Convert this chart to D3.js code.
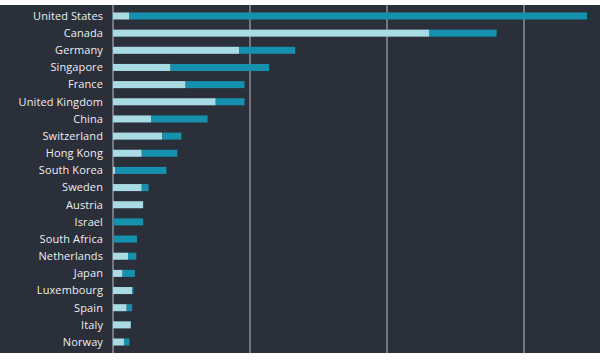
<!DOCTYPE html>
<html>
<head>
<meta charset="utf-8">
<script src="https://cdn.jsdelivr.net/npm/d3@7"></script>
<style>
  html, body { margin: 0; padding: 0; background: #ffffff; }
  svg { display: block; }
</style>
</head>
<body>
<svg id="chart" width="600" height="360"></svg>
<script>
const countries = ["United States","Canada","Germany","Singapore","France","United Kingdom","China","Switzerland","Hong Kong","South Korea","Sweden","Austria","Israel","South Africa","Netherlands","Japan","Luxembourg","Spain","Italy","Norway"];
const seriesA = [12, 231, 92, 42, 53, 75, 28, 36, 21, 1.5, 21, 22, 0, 0, 11, 7, 14, 10, 13, 8];
const seriesB = [334, 49, 41, 72, 43, 21, 41, 14, 26, 37.5, 5, 0, 22, 17.5, 6, 9, 1, 4, 0, 4];
const gridTicks = [0, 100, 200, 300];

const svg = d3.select("#chart");
const W = 600, H = 360;

svg.append("rect").attr("x", 0).attr("y", 5).attr("width", W).attr("height", 348).attr("fill", "#2b2f3a");

const x = d3.scaleLinear().domain([0, 300]).range([113, 524]);
const y = d3.scaleBand().domain(countries).range([7.4, 350.6]).paddingInner(0.59).paddingOuter(0.295);

// gridlines
svg.append("g").selectAll("line").data(gridTicks).join("line")
  .attr("x1", d => x(d)).attr("x2", d => x(d))
  .attr("y1", 5).attr("y2", 353)
  .attr("stroke", "#a3a8b0").attr("stroke-width", 1.2);

const rows = countries.map((c, i) => ({c, a: seriesA[i], b: seriesB[i]}));
const stack = d3.stack().keys(["a", "b"])(rows);
const colors = {a: "#a9dbe4", b: "#1590ad"};

svg.append("g").selectAll("g").data(stack).join("g")
  .attr("fill", d => colors[d.key])
  .selectAll("rect").data(d => d).join("rect")
  .attr("x", d => x(d[0]))
  .attr("y", d => y(d.data.c))
  .attr("width", d => Math.max(0, x(d[1]) - x(d[0])))
  .attr("height", y.bandwidth());

svg.append("g").selectAll("text").data(countries).join("text")
  .attr("x", 103)
  .attr("y", d => y(d) + y.bandwidth() / 2)
  .attr("dy", "0.35em")
  .attr("text-anchor", "end")
  .attr("fill", "#eceef1")
  .style("font-family", "'Open Sans', sans-serif")
  .style("font-size", "11px")
  .style("letter-spacing", "0.1px")
  .text(d => d);
</script>
</body>
</html>
